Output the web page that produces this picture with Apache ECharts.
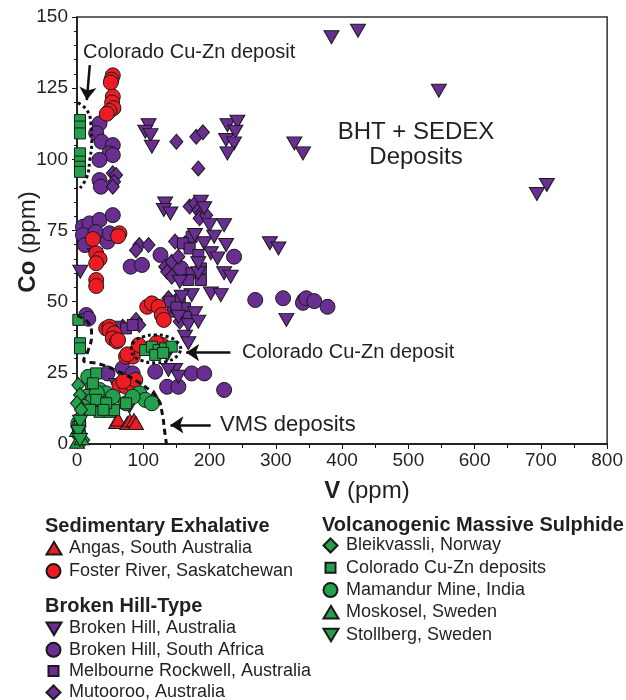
<!DOCTYPE html>
<html>
<head>
<meta charset="utf-8">
<script src="https://cdn.jsdelivr.net/npm/echarts@6/dist/echarts.min.js"></script>
<style>
  html, body { margin: 0; background: #fff; }
  #chart { width: 626px; height: 700px; }
</style>
</head>
<body>
<div id="chart"></div>
<script>
// V (ppm), Co (ppm)
const angas = [[59, 7.7], [62, 8.6], [76, 7.4], [80, 8.2], [86, 8.4], [89, 7.4], [116, 16.5]]
const fosterRiver = [
  [54, 129.5], [52, 128], [51, 127], [54, 122], [53, 120], [55, 118], [49, 117], [45, 116],
  [24, 72], [29, 67], [34, 65], [29, 63.5], [29, 57.6], [29, 55.5], [64, 74], [62, 73],
  [44, 40.6], [49, 41.2], [49, 40], [56, 38.9], [54, 37.1], [60, 36], [62, 36.5],
  [106, 48.2], [113, 49.4], [123, 48.2], [128, 45.3], [131, 43.6],
  [74, 30.7], [84, 30.7], [93, 34.8], [128, 34.8], [120, 35.5], [76, 31.5],
  [64, 20.7], [74, 20.1], [84, 20.7], [88, 22.5], [70, 22]
]
const bhAustralia = [
  [108, 112], [103, 109.7], [111, 108.5], [113, 104.4], [227, 112], [242, 113.2], [239, 109.7],
  [225, 106.8], [237, 105.6], [227, 102.1], [328, 105.6], [341, 102.1],
  [384, 142.9], [424, 145.2], [546, 124.1], [694, 87.8], [709, 91],
  [133, 84.5], [131, 82.2], [141, 81], [187, 85.1], [192, 82.8], [200, 76.9], [222, 76.9],
  [291, 70.5], [304, 68.7], [316, 43.6],
  [5, 60.5], [27, 66.4], [155, 57], [183, 60], [202, 52.9], [217, 52.3], [222, 60], [232, 58.8],
  [178, 73.4], [192, 70.5], [207, 72.8], [225, 69.9], [202, 67], [183, 63.5], [212, 65.2],
  [168, 41.8], [163, 37.7], [168, 35.4], [153, 44.7], [178, 45.9], [183, 43], [173, 52.3], [158, 51.7],
  [148, 26], [138, 26], [153, 23.6], [59, 20.7], [79, 13.1], [136, 31.3]
]
const bhSouthAfrica = [
  [34, 112.6], [29, 109.2], [37, 106.2], [54, 105], [49, 102.1], [54, 101.5], [34, 99.8], [34, 92.7], [36, 90.4],
  [9, 76.3], [19, 77.5], [34, 78.7], [54, 80.4], [9, 73.4], [12, 69.9], [46, 71.1], [49, 74], [28, 74.5],
  [81, 62.3], [98, 62.9], [126, 66.4], [157, 61.7], [237, 65.8],
  [14, 45.3], [17, 44],
  [269, 50.6], [311, 51.2], [343, 50.6], [341, 49.6], [346, 51.2], [358, 50.2], [378, 48.2],
  [46, 24.8], [69, 26.6], [84, 24.8], [118, 25.4], [173, 24.8], [192, 24.8], [136, 20.1], [153, 20.1], [222, 19]
]
const melbourneRockwell = [
  [173, 72.8], [160, 70.5], [170, 68.7], [183, 66.4], [187, 61.7], [173, 60], [168, 57.6], [187, 57.6],
  [155, 50.6], [163, 47.7], [145, 46.5], [168, 44.7], [64, 41.2], [74, 40.6], [84, 41.8], [140, 50], [150, 48]
]
const mutooroo = [
  [54, 95.1], [59, 94.5], [56, 92.1], [54, 90.4], [150, 106.2], [180, 107.9], [190, 109.5], [183, 96.8],
  [170, 83.4], [178, 84.5], [183, 82.2], [187, 81], [185, 79.3], [195, 80.4],
  [94, 69.9], [108, 69.9], [89, 68.1], [148, 71.1], [163, 70.5], [133, 62.3], [143, 64], [153, 65.8],
  [136, 60.5], [143, 58.8], [138, 51.2], [153, 51.2], [143, 48.8], [153, 47.7], [160, 44.7], [155, 43],
  [69, 41.2], [89, 43.6], [94, 41.8]
]
const bleikvassli = [[2, 20.7], [4.5, 17.2], [0, 14.3], [4.5, 9.6], [2, 2.6], [9.4, 1.4], [3, 4.9], [6, 12]]
const coloradoCuZn = [
  [4.5, 113.8], [4.5, 111.5], [4.5, 109.1], [4.5, 102.1], [4.5, 99.2], [4.5, 97.4], [4.5, 95.6],
  [2, 43.6], [4.5, 35.4], [4.5, 33.6],
  [103, 33], [113, 34.2], [123, 33], [133, 33.6], [143, 34.2], [118, 31.3], [130, 32],
  [29, 24.8], [24, 21.3], [29, 15.5], [34, 11.3], [49, 11.3], [56, 11.9], [2, 6.1], [4.5, 8.4],
  [74, 14.3], [44, 14.3], [40, 12], [20, 12]
]
const mamandur = [
  [17, 23.6], [24, 20.1], [34, 19], [44, 17.8], [54, 16.6], [14, 16.6], [24, 15.5], [9, 13.1],
  [94, 17.8], [103, 15.5], [113, 14.3], [74, 14.3], [84, 16.6], [39, 14.3], [2, 7.3], [30, 18]
]
const moskosel = [[0, 4.9], [0, 0.8], [7, 2], [3, 6]]
const stollberg = [[4.5, 7.8], [2, 3.8], [2, 4.3], [4.5, 1.4]]

// hand-drawn outlines and arrows on the figure (data coordinates)
const topColoradoRing = [[1.5, 119.8], [14.8, 117.3], [20.8, 112.8], [22.3, 106.5], [19.3, 99.8], [14.8, 93.8], [4.5, 89.9]]
const midColoradoRing = [
  [157, 33.4], [151, 35.8], [138, 37.6], [119, 38.3], [99, 37.6], [86, 35.8], [82, 33.4],
  [86, 30.9], [99, 29.2], [119, 28.5], [138, 29.2], [151, 30.9], [157, 33.4]
]
const vmsBoundary = [
  [0, 45], [16, 42.9], [22, 38.3], [16, 32.3], [10, 29.5], [34, 28.1], [64, 25.3],
  [90, 22.1], [111, 18.6], [123, 15.5], [129, 10.2], [132, 4.9], [135, 0]
]
const arrows = [
  [[19.3, 133.1], [14.8, 120.8]],
  [[231.5, 32.1], [164.7, 32.1]],
  [[201.8, 6.7], [141, 6.7]]
]

const RED = '#ED1C24'
const PURPLE = '#6A2D91'
const GREEN = '#22A04B'
const FONT = '"Liberation Sans", Arial, sans-serif'
const DOWN = 'path://M0,0L10,0L5,8.7Z'

// legend icons: drawn inside an 18x15 box so they keep the marker's shape, left aligned
const ICON = {
  circle: 'path://M0,0M18,15M0.5,7.5A7,7,0,1,1,14.5,7.5A7,7,0,1,1,0.5,7.5Z',
  up: 'path://M0,0M18,15M0.5,13.5L15.5,13.5L8,1Z',
  down: 'path://M0,0M18,15M0.5,1.5L15.5,1.5L8,14Z',
  square: 'path://M0,0M18,15M2.5,2.5h10v10h-10Z',
  diamond: 'path://M0,0M18,15M7.5,0.5L14.5,7.5L7.5,14.5L0.5,7.5Z',
}

const chart = echarts.init(document.getElementById('chart'))

function scatter(name, data, symbol, size, color) {
  return {
    name, data, type: 'scatter', symbol, symbolSize: size, clip: false,
    itemStyle: { color, borderColor: '#1a1a1a', borderWidth: 1, opacity: 1 },
    emphasis: { disabled: true },
  }
}

function outline(data, dash) {
  return {
    type: 'line', data, smooth: true, showSymbol: false, silent: true, clip: false,
    lineStyle: { color: '#111', width: 3, type: dash },
    z: 5,
  }
}

function legendBox(left, top, gap, items) {
  return {
    left, top, height: 130, padding: 0,
    orient: 'vertical', selectedMode: false, itemWidth: 18, itemHeight: 15, itemGap: gap,
    textStyle: { fontFamily: FONT, fontSize: 18, color: '#231f20' },
    data: items.map(([name, icon]) => ({ name, icon: ICON[icon] })),
  }
}

function label(text, x, y, size, bold, align) {
  return {
    type: 'text', x, y, silent: true,
    style: {
      text, fill: '#231f20', align: align || 'left', verticalAlign: 'middle',
      font: (bold ? 'bold ' : '') + size + 'px ' + FONT,
    },
  }
}

function axisTitle(text, x, y, rotation) {
  return {
    type: 'text', x, y, rotation, silent: true,
    style: {
      text, align: 'center', verticalAlign: 'middle',
      font: '24px ' + FONT, fill: '#231f20',
      rich: { b: { font: 'bold 24px ' + FONT, fill: '#231f20' } },
    },
  }
}

chart.setOption({
  animation: false,
  grid: {
    left: 77, right: 9, top: 17, bottom: 256,
    show: true, borderColor: '#333', borderWidth: 1.5,
  },
  xAxis: {
    type: 'value', min: 0, max: 800, interval: 100,
    axisLine: { lineStyle: { color: '#111', width: 1.5 } },
    axisTick: { length: 5, lineStyle: { color: '#111' } },
    minorTick: { show: true, splitNumber: 2, length: 4, lineStyle: { color: '#111' } },
    splitLine: { show: false },
    axisLabel: { fontFamily: FONT, fontSize: 19, color: '#231f20', margin: 7 },
  },
  yAxis: {
    type: 'value', min: 0, max: 150, interval: 25,
    axisLine: { show: true, lineStyle: { color: '#111', width: 1.5 } },
    axisTick: { show: true, length: 5, lineStyle: { color: '#111' } },
    minorTick: { show: true, splitNumber: 5, length: 3, lineStyle: { color: '#111' } },
    splitLine: { show: false },
    axisLabel: { fontFamily: FONT, fontSize: 19, color: '#231f20', margin: 9 },
  },
  legend: [
    legendBox(45, 539.5, 4.6, [
      ['Angas, South Australia', 'up'],
      ['Foster River, Saskatchewan', 'circle'],
    ]),
    legendBox(45, 619.5, 3.3, [
      ['Broken Hill, Australia', 'down'],
      ['Broken Hill, South Africa', 'circle'],
      ['Melbourne Rockwell, Australia', 'square'],
      ['Mutooroo, Australia', 'diamond'],
    ]),
    legendBox(322, 536.5, 4.3, [
      ['Bleikvassli, Norway', 'diamond'],
      ['Colorado Cu-Zn deposits', 'square'],
      ['Mamandur Mine, India', 'circle'],
      ['Moskosel, Sweden', 'up'],
      ['Stollberg, Sweden', 'down'],
    ]),
  ],
  graphic: [
    axisTitle('{b|Co} (ppm)', 28, 242, Math.PI / 2),
    axisTitle('{b|V} (ppm)', 367, 491, 0),
    label('Colorado Cu-Zn deposit', 83, 52, 20),
    label('BHT + SEDEX', 416, 132, 24, false, 'center'),
    label('Deposits', 416, 157, 24, false, 'center'),
    label('Colorado Cu-Zn deposit', 242, 352, 20),
    label('VMS deposits', 220, 425, 22),
    label('Sedimentary Exhalative', 45, 526, 20, true),
    label('Broken Hill-Type', 45, 606, 20, true),
    label('Volcanogenic Massive Sulphide', 322, 525, 20, true),
  ],
  series: [
    scatter('Broken Hill, South Africa', bhSouthAfrica, 'circle', 15, PURPLE),
    scatter('Mutooroo, Australia', mutooroo, 'diamond', [13, 15], PURPLE),
    scatter('Melbourne Rockwell, Australia', melbourneRockwell, 'rect', 11, PURPLE),
    scatter('Broken Hill, Australia', bhAustralia, DOWN, [15, 13], PURPLE),
    scatter('Foster River, Saskatchewan', fosterRiver, 'circle', 15, RED),
    scatter('Angas, South Australia', angas, 'triangle', [15, 13], RED),
    scatter('Mamandur Mine, India', mamandur, 'circle', 15, GREEN),
    scatter('Colorado Cu-Zn deposits', coloradoCuZn, 'rect', 11, GREEN),
    scatter('Bleikvassli, Norway', bleikvassli, 'diamond', [13, 15], GREEN),
    scatter('Moskosel, Sweden', moskosel, 'triangle', [15, 13], GREEN),
    scatter('Stollberg, Sweden', stollberg, DOWN, [15, 13], GREEN),
    outline(topColoradoRing, [3, 3]),
    outline(midColoradoRing, [3, 3]),
    Object.assign(outline(vmsBoundary, [6, 4]), {
      markLine: {
        silent: true, symbol: ['none', 'arrow'], symbolSize: 13,
        label: { show: false },
        lineStyle: { color: '#111', width: 2.5, type: 'solid' },
        data: arrows.map(([a, b]) => [{ coord: a }, { coord: b }]),
      },
    }),
  ],
})
</script>
</body>
</html>
